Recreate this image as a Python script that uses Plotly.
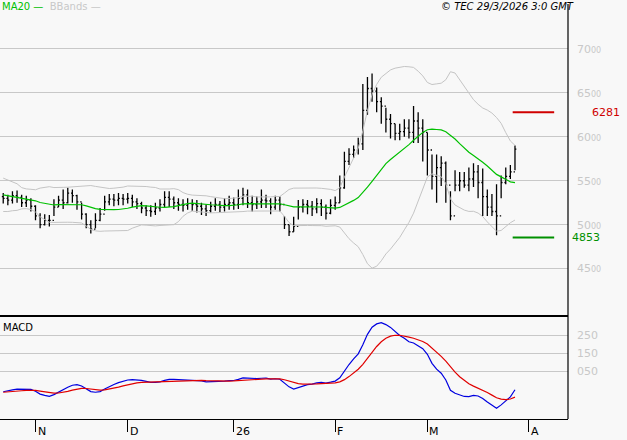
import numpy as np
import pandas as pd
import plotly.graph_objects as go
from plotly.subplots import make_subplots

close = [5300,5280,5330,5310,5250,5280,5210,5100,5000,5050,
         5050,5200,5280,5250,5360,5330,5260,5120,5000,4950,
         5050,5120,5260,5290,5280,5300,5290,5300,5260,5240,
         5190,5160,5150,5190,5230,5310,5290,5250,5230,5220,
         5240,5230,5210,5180,5160,5210,5230,5200,5230,5250,
         5230,5300,5340,5250,5230,5260,5280,5270,5200,5280,
         5230,5000,4920,4980,5200,5230,5210,5180,5240,5200,
         5130,5220,5250,5420,5720,5800,5850,5920,6300,6550,
         6520,6400,6350,6200,6150,6040,6060,6100,6050,6180,
         6100,6050,5850,5550,5650,5700,5450,5100,5450,5500,
         5450,5520,5600,5480,5320,5200,5150,5100,5480,5550,
         5600,5860]
high = [5360,5340,5380,5390,5340,5330,5300,5220,5130,5120,
        5110,5290,5330,5400,5420,5400,5340,5250,5130,5050,
        5130,5190,5330,5350,5350,5360,5350,5360,5340,5300,
        5260,5220,5220,5250,5290,5380,5380,5320,5300,5290,
        5300,5290,5280,5250,5230,5260,5300,5270,5300,5330,
        5310,5400,5420,5400,5330,5320,5400,5340,5300,5330,
        5320,5100,5000,5090,5280,5290,5280,5270,5300,5290,
        5230,5290,5320,5560,5830,5870,5900,5990,6600,6680,
        6720,6560,6450,6330,6260,6150,6150,6200,6200,6350,
        6280,6200,6050,5800,5800,5780,5720,5380,5620,5600,
        5600,5650,5700,5680,5640,5400,5350,5460,5560,5650,
        5680,5900]
low = [5240,5220,5240,5250,5200,5200,5150,5050,4960,4990,
       4980,5100,5200,5180,5240,5250,5170,5060,4960,4900,
       4960,5040,5160,5220,5210,5220,5220,5240,5200,5180,
       5130,5100,5090,5110,5150,5200,5200,5180,5160,5150,
       5170,5160,5140,5110,5100,5140,5160,5140,5150,5170,
       5170,5180,5220,5190,5150,5180,5190,5190,5120,5170,
       5150,4950,4870,4920,5060,5140,5120,5100,5130,5100,
       5060,5120,5170,5250,5410,5680,5760,5800,5850,6250,
       6400,6280,6150,6050,5980,5960,5960,6000,5980,5930,
       5930,5720,5560,5400,5250,5440,5250,5050,5380,5380,
       5420,5380,5430,5300,5100,5100,5100,4880,5300,5460,
       5520,5620]
# closes before the visible window, used only to warm up the indicators
prior = [5550,5600,5520,5580,5620,5540,5480,5500,5450,5520,5400,5350,5420,
         5380,5300,5250,5320,5200,5280,5350,5300,5240,5180,5260,5320]

resistance = 6281
support = 4853
month_labels = ["N", "D", "26", "F", "M", "A"]
month_starts = ["2025-11-01", "2025-12-01", "2026-01-01", "2026-02-01", "2026-03-01", "2026-04-01"]
price_ticks = [4500, 5000, 5500, 6000, 6500, 7000]

n = len(close)
idx = np.arange(n)
open_ = [prior[-1]] + close[:-1]

allc = pd.Series(prior + close)
ma = allc.rolling(20).mean().values[len(prior):]
sd = allc.rolling(20).std(ddof=0).values[len(prior):]
upper, lower = ma + 2 * sd, ma - 2 * sd
ema12 = allc.ewm(span=12, adjust=False).mean()
ema26 = allc.ewm(span=26, adjust=False).mean()
macd = (ema12 - ema26)
signal = macd.ewm(span=9, adjust=False).mean()
macd, signal = macd.values[len(prior):], signal.values[len(prior):]

# first trading day of each month, counted from 23 Oct 2025
all_days = pd.bdate_range("2025-10-23", "2026-04-10")
month_idx = [int((all_days < pd.Timestamp(m)).sum()) for m in month_starts]

fig = make_subplots(rows=2, cols=1, shared_xaxes=True, vertical_spacing=0.003,
                    row_heights=[0.748, 0.252])

fig.add_trace(go.Scatter(x=idx, y=upper, mode="lines", line=dict(color="#c4c4c4", width=1)), 1, 1)
fig.add_trace(go.Scatter(x=idx, y=lower, mode="lines", line=dict(color="#c4c4c4", width=1)), 1, 1)
fig.add_trace(go.Scatter(x=idx, y=ma, mode="lines", line=dict(color="#00c000", width=1.2)), 1, 1)
fig.add_trace(go.Ohlc(x=idx, open=open_, high=high, low=low, close=close,
                      increasing_line_color="black", decreasing_line_color="black",
                      line_width=1.3, tickwidth=0.3), 1, 1)

fig.add_trace(go.Scatter(x=idx, y=macd, mode="lines", line=dict(color="#0000e0", width=1.2)), 2, 1)
fig.add_trace(go.Scatter(x=idx, y=signal, mode="lines", line=dict(color="#e00000", width=1.2)), 2, 1)

fig.add_shape(type="line", x0=110.5, x1=119.5, y0=resistance, y1=resistance,
              line=dict(color="#d00000", width=2), row=1, col=1)
fig.add_shape(type="line", x0=110.5, x1=119.5, y0=support, y1=support,
              line=dict(color="#009000", width=2), row=1, col=1)

small = "<span style='font-size:8px'>00</span>"
fig.update_yaxes(row=1, col=1, range=[3978, 7466], side="right", tickvals=price_ticks,
                 ticktext=[f"{v // 100}{small}" for v in price_ticks],
                 showgrid=True, gridcolor="#c8c8c8", zeroline=False, automargin=False,
                 tickfont=dict(color="#c8c8c8", size=11), ticks="", ticklabelstandoff=8)
fig.update_yaxes(row=2, col=1, range=[-215, 360], side="right", tickvals=[50, 150, 250],
                 ticktext=["050", "150", "250"], showgrid=True, gridcolor="#c8c8c8",
                 zeroline=False, automargin=False, tickfont=dict(color="#c8c8c8", size=11),
                 ticks="", ticklabelstandoff=8)
fig.update_xaxes(range=[-0.7, 122.5], showgrid=False, zeroline=False, automargin=False,
                 rangeslider_visible=False)
fig.update_xaxes(row=1, col=1, showticklabels=False, showline=True, linecolor="black",
                 linewidth=2)
fig.update_xaxes(row=2, col=1, tickvals=month_idx, showticklabels=False, ticks="outside",
                 ticklen=12, tickcolor="black", showline=True, linecolor="black", linewidth=1)

for m, lab in zip(month_idx, month_labels):
    fig.add_annotation(x=m, y=0, xref="x2", yref="paper", text=lab, showarrow=False,
                       xanchor="left", yanchor="top", xshift=0, yshift=-4,
                       font=dict(size=11, color="black"))

fig.add_shape(type="line", xref="paper", yref="paper", x0=1, x1=1, y0=0, y1=1.01,
              line=dict(color="black", width=1.2))

fig.add_annotation(x=1, y=resistance, xref="paper", yref="y", text=str(resistance),
                   showarrow=False, xanchor="left", xshift=22, font=dict(color="#d00000", size=11))
fig.add_annotation(x=1, y=support, xref="paper", yref="y", text=str(support),
                   showarrow=False, xanchor="left", xshift=2, font=dict(color="#009000", size=11))
fig.add_annotation(x=0, y=0.25, xref="paper", yref="paper", text="MACD", showarrow=False,
                   xanchor="left", yanchor="top", xshift=1, yshift=-4,
                   font=dict(size=10, color="black"))
fig.add_annotation(x=0, y=1, xref="paper", yref="paper", yanchor="top", xanchor="left",
                   text="<span style='color:#00c000'>MA20 —</span>  <span style='color:#c8c8c8'>BBands —</span>",
                   showarrow=False, yshift=9, font=dict(size=10))
fig.add_annotation(x=1, y=1, xref="paper", yref="paper", yanchor="top", xanchor="right",
                   text="<i>© TEC 29/3/2026 3:0 GMT</i>", showarrow=False, yshift=9, xshift=8,
                   font=dict(size=10, color="black"))

fig.update_layout(width=627, height=440, showlegend=False,
                  margin=dict(l=0, r=59, t=8, b=21),
                  paper_bgcolor="#f8f8f8", plot_bgcolor="#f8f8f8",
                  font=dict(family="DejaVu Sans"))

fig.write_html("out.html", config={"displayModeBar": False},
               post_script="document.body.style.margin='0';")
